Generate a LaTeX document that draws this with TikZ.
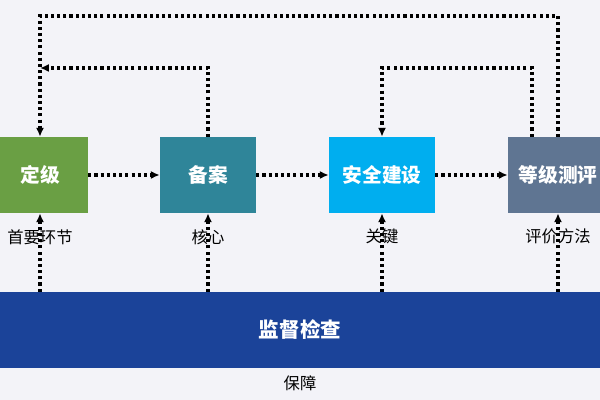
\documentclass[tikz,border=0pt]{standalone}
\usepackage{fontspec}
\setmainfont{Noto Sans CJK SC}
\usetikzlibrary{arrows.meta}

\definecolor{bgcol}{HTML}{F3F3F8}
\definecolor{dingjicol}{HTML}{6A9F44}
\definecolor{beiancol}{HTML}{2F8599}
\definecolor{anquancol}{HTML}{00AEEF}
\definecolor{cepingcol}{HTML}{5F7592}
\definecolor{jianchacol}{HTML}{1B4399}

\tikzset{
  stage/.style={minimum height=1.9cm, inner sep=0pt, text=white,
    font=\fontsize{14}{16}\selectfont\bfseries},
  flow/.style={line width=2.2pt, dash pattern=on 2.2pt off 2.2pt,
    -{Latex[length=2.2mm,width=2mm]}},
  lbl/.style={font=\fontsize{11.6}{13}\selectfont, inner sep=1pt}
}

\begin{document}
\begin{tikzpicture}[x=1cm,y=1cm]
  % background
  \fill[bgcol] (0,0) rectangle (15,10);
  \useasboundingbox (0,0) rectangle (15,10);

  % stages
  \node[stage, fill=dingjicol, minimum width=2.4cm] (dingji) at (1.0,5.625) {定级};
  \node[stage, fill=beiancol, minimum width=2.4cm] (beian) at (5.2,5.625) {备案};
  \node[stage, fill=anquancol, minimum width=2.65cm] (anquan) at (9.55,5.625) {安全建设};
  \node[stage, fill=cepingcol, minimum width=2.5cm] (ceping) at (13.95,5.625) {等级测评};

  % bottom bar
  \node[stage, fill=jianchacol, minimum width=15.4cm,
    font=\fontsize{14.6}{16}\selectfont\bfseries] (jiancha) at (7.5,1.75) {监督检查};
  \node[lbl] (baozhang) at (7.5,0.425) {保障};

  % support arrows
  \foreach \b/\t in {dingji/首要环节, beian/核心, anquan/关键, ceping/评价方法} {
    \draw[flow] (jiancha.north -| \b) -- (\b.south)
      node[lbl, pos=0.7] (l-\b) {\t};
  }

  % main flow
  \draw[flow] (dingji.east) -- (beian.west);
  \draw[flow] (beian.east) -- (anquan.west);
  \draw[flow] (anquan.east) -- (ceping.west);

  % feedback
  \coordinate (fb1) at (1.0,8.3);
  \coordinate (fb2) at (13.3,8.3);
  \coordinate (fb3) at (13.95,9.6);
  \draw[flow] (beian.north) |- (fb1);
  \draw[flow] (ceping.north -| fb2) -- (fb2) -| (anquan.north);
  \draw[flow] (ceping.north) -- (fb3) -| (dingji.north);
\end{tikzpicture}
\end{document}
